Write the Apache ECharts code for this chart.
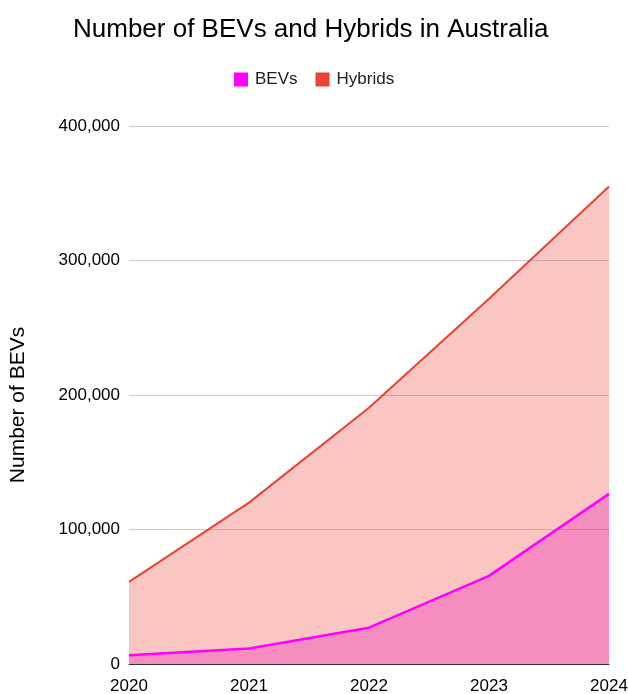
<!DOCTYPE html>
<html>
<head>
<meta charset="utf-8">
<script src="https://cdn.jsdelivr.net/npm/echarts@6/dist/echarts.min.js"></script>
<style>
  html, body { margin: 0; padding: 0; background: #fff; }
  #chart { width: 628px; height: 694px; }
</style>
</head>
<body>
<div id="chart"></div>
<script>
// Annual vehicle counts in Australia
const years = ['2020', '2021', '2022', '2023', '2024'];
const bevs = [6500, 11500, 27000, 65500, 126500];
const hybrids = [61000, 120000, 190500, 271500, 355000];
const yTicks = [0, 100000, 200000, 300000, 400000];

const font = 'Liberation Sans, Arial, sans-serif';

const chart = echarts.init(document.getElementById('chart'));
chart.setOption({
  animation: false,
  backgroundColor: '#fff',
  title: {
    text: 'Number of BEVs and Hybrids in Australia',
    left: 68,
    top: 12,
    textStyle: { fontFamily: font, fontSize: 26, fontWeight: 'normal', color: '#000' }
  },
  legend: {
    top: 66,
    left: 229,
    itemWidth: 14,
    itemHeight: 14,
    itemGap: 18,
    icon: 'rect',
    textStyle: { fontFamily: font, fontSize: 17, color: '#222', padding: [0, 0, 0, 2] },
    data: ['BEVs', 'Hybrids']
  },
  grid: { left: 129, right: 19, top: 126, bottom: 30, outerBoundsMode: 'none' },
  xAxis: {
    type: 'category',
    data: years,
    boundaryGap: false,
    axisLine: { show: true, lineStyle: { color: '#333', width: 1 } },
    axisTick: { show: false },
    axisLabel: { fontFamily: font, fontSize: 17, color: '#000', margin: 14 }
  },
  yAxis: {
    type: 'value',
    min: yTicks[0],
    max: yTicks[yTicks.length - 1],
    interval: 100000,
    name: 'Number of BEVs',
    nameLocation: 'middle',
    nameGap: 100,
    nameTextStyle: { fontFamily: font, fontSize: 21, color: '#000', padding: [0, 20, 0, 0] },
    axisLine: { show: false },
    axisTick: { show: false },
    axisLabel: {
      fontFamily: font, fontSize: 17, color: '#000', margin: 9,
      formatter: v => v.toLocaleString('en-US')
    },
    splitLine: { lineStyle: { color: '#cccccc', width: 1 } }
  },
  series: [
    {
      name: 'Hybrids',
      type: 'line',
      data: hybrids,
      symbol: 'none',
      itemStyle: { color: '#ea4335' },
      lineStyle: { color: '#ea4335', width: 2 },
      areaStyle: { color: '#ea4335', opacity: 0.3 },
      z: 2
    },
    {
      name: 'BEVs',
      type: 'line',
      data: bevs,
      symbol: 'none',
      itemStyle: { color: '#ff00ff' },
      lineStyle: { color: '#ff00ff', width: 2.5 },
      areaStyle: { color: '#ec0cbb', opacity: 0.3 },
      z: 3
    }
  ]
});
</script>
</body>
</html>
